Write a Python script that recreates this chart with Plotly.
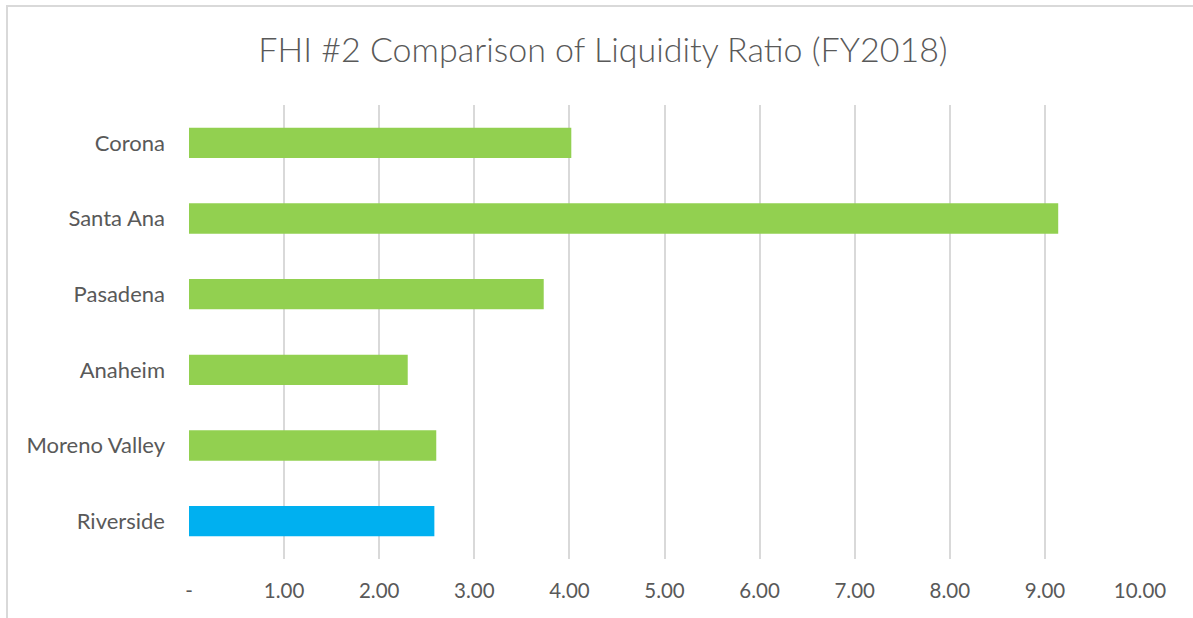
import plotly.graph_objects as go

categories = ["Riverside", "Moreno Valley", "Anaheim", "Pasadena", "Santa Ana", "Corona"]
values = [2.58, 2.60, 2.30, 3.73, 9.14, 4.02]
colors = ["#00B0F0", "#92D050", "#92D050", "#92D050", "#92D050", "#92D050"]
tick_vals = [0, 1, 2, 3, 4, 5, 6, 7, 8, 9, 10]
tick_text = ["-", "1.00", "2.00", "3.00", "4.00", "5.00", "6.00", "7.00", "8.00", "9.00", "10.00"]
title = "FHI #2 Comparison of Liquidity Ratio (FY2018)"

W, H = 1193, 618
L, R, T, B = 189, 53, 105, 59
pw, ph = W - L - R, H - T - B

fig = go.Figure(go.Bar(
    y=categories, x=values, orientation="h",
    marker=dict(color=colors, line=dict(width=0)),
    width=0.4,
))

font = "Lato, 'Open Sans', sans-serif"
fig.update_layout(
    width=W, height=H,
    margin=dict(l=L, r=R, t=T, b=B),
    paper_bgcolor="white", plot_bgcolor="white",
    showlegend=False,
    title=dict(text=title, x=603 / W, xanchor="center", xref="container",
               y=1 - 50 / H, yanchor="middle", yref="container",
               font=dict(family=font, size=34, color="#595959", weight=300)),
    font=dict(family=font, color="#595959"),
    xaxis=dict(range=[0, 10], tickvals=tick_vals, ticktext=tick_text,
               showgrid=True, gridcolor="#d9d9d9", gridwidth=2,
               zeroline=False, showline=False, ticks="",
               tickfont=dict(size=20.5, color="#595959"),
               ticklabelstandoff=17),
    yaxis=dict(categoryorder="array", categoryarray=categories,
               range=[-0.5, 5.5], showgrid=False, zeroline=False,
               showline=False, ticks="",
               tickfont=dict(size=22, color="#595959"),
               ticklabelstandoff=23),
    shapes=[dict(type="rect", xref="paper", yref="paper",
                 x0=(7 - L) / pw, x1=(W + 20 - L) / pw,
                 y0=-0.5, y1=(H - B - 6) / ph,
                 line=dict(color="#d9d9d9", width=2), fillcolor="rgba(0,0,0,0)",
                 layer="below")],
)
fig.write_html("out.html", config={"displayModeBar": False},
               post_script="document.body.style.margin='0';")
